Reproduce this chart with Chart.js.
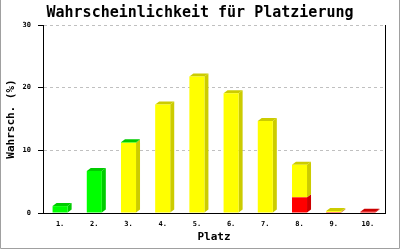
<!DOCTYPE html>
<html><head><meta charset="utf-8">
<script src="https://cdn.jsdelivr.net/npm/chart.js@4/dist/chart.umd.min.js"></script>
<style>html,body{margin:0;padding:0;background:#fff}#c{display:block}</style>
</head><body>
<canvas id="c" width="400" height="250"></canvas>
<script>
const categories = ["1.","2.","3.","4.","5.","6.","7.","8.","9.","10."];
const redValues    = [0, 0, 0, 0, 0, 0, 0, 2.5, 0.15, 0.2];
const yellowValues = [0, 0, 11.2, 17.3, 21.8, 19.1, 14.7, 5.2, 0.15, 0];
const greenValues  = [1.1, 6.7, 0.1, 0, 0, 0, 0, 0, 0, 0];
const yTicks = [0, 10, 20, 30];

const MONO = "'DejaVu Sans Mono', 'Liberation Mono', monospace";
const DX = 4, DY = 3;

const bar3d = {
  id: 'bar3d',
  beforeDatasetsDraw(chart) {
    const ctx = chart.ctx;
    const metas = chart.data.datasets.map((d, k) => chart.getDatasetMeta(k));
    for (let i = 0; i < categories.length; i++) {
      let topSeg = null;
      metas.forEach((meta, k) => {
        const v = chart.data.datasets[k].data[i];
        if (!v) return;
        const el = meta.data[i];
        const p = el.getProps(['x', 'y', 'base', 'width'], true);
        const l = p.x - p.width / 2, r = p.x + p.width / 2;
        const t = Math.min(p.y, p.base), b = Math.max(p.y, p.base);
        const dark = chart.data.datasets[k].sideColor;
        ctx.save();
        ctx.fillStyle = dark;
        ctx.beginPath();
        ctx.moveTo(r, t); ctx.lineTo(r + DX, t - DY); ctx.lineTo(r + DX, b - DY); ctx.lineTo(r, b);
        ctx.closePath(); ctx.fill();
        ctx.restore();
        topSeg = {l, r, t, dark};
      });
      if (topSeg) {
        ctx.save();
        ctx.fillStyle = topSeg.dark;
        ctx.beginPath();
        ctx.moveTo(topSeg.l, topSeg.t); ctx.lineTo(topSeg.l + DX, topSeg.t - DY);
        ctx.lineTo(topSeg.r + DX, topSeg.t - DY); ctx.lineTo(topSeg.r, topSeg.t);
        ctx.closePath(); ctx.fill();
        ctx.restore();
      }
    }
  },
  afterDraw(chart) {
    const ctx = chart.ctx;
    ctx.save();
    ctx.strokeStyle = '#a0a0a0'; ctx.lineWidth = 1;
    ctx.beginPath();
    ctx.moveTo(0.5, 0); ctx.lineTo(0.5, 248.5); ctx.lineTo(399.5, 248.5); ctx.lineTo(399.5, 0);
    ctx.stroke();
    ctx.restore();
  }
};

new Chart(document.getElementById('c'), {
  type: 'bar',
  data: {
    labels: categories,
    datasets: [
      {label: 'rot', data: redValues, backgroundColor: '#ff0000', sideColor: '#cc0000'},
      {label: 'gelb', data: yellowValues, backgroundColor: '#ffff00', sideColor: '#cccc00'},
      {label: 'grün', data: greenValues, backgroundColor: '#00ff00', sideColor: '#00cc00'}
    ]
  },
  options: {
    responsive: false,
    animation: false,
    devicePixelRatio: 1,
    layout: {padding: {left: 0, right: 0, top: 0, bottom: 0}},
    datasets: {bar: {barPercentage: 0.44, categoryPercentage: 1.0, borderWidth: 0}},
    plugins: {
      legend: {display: false},
      tooltip: {enabled: false},
      title: {
        display: true,
        text: 'Wahrscheinlichkeit für Platzierung',
        color: '#000',
        font: {family: MONO, size: 15, weight: 'bold', lineHeight: 1.2},
        padding: {top: 4, bottom: 3}
      }
    },
    scales: {
      x: {
        stacked: true,
        grid: {display: false, drawTicks: false},
        border: {display: true, color: '#000', width: 1},
        ticks: {color: '#000', font: {family: MONO, size: 7, weight: 'bold'}, padding: 7, maxRotation: 0, autoSkip: false},
        title: {display: true, text: 'Platz', color: '#000', font: {family: MONO, size: 11, weight: 'bold', lineHeight: 1.2}, padding: {top: 0, bottom: 6}},
        afterFit(s) { s.height = 37; }
      },
      y: {
        stacked: true,
        min: 0, max: 30,
        afterBuildTicks(s) { s.ticks = yTicks.map(v => ({value: v})); },
        grid: {color: '#c0c0c0', tickColor: '#000', tickBorderDash: [], tickLength: 5, lineWidth: 1},
        border: {display: true, color: '#000', width: 1, dash: [3, 3]},
        ticks: {color: '#000', font: {family: MONO, size: 7, weight: 'bold'}, padding: 7},
        title: {display: true, text: 'Wahrsch. (%)', color: '#000', font: {family: MONO, size: 11, weight: 'bold', lineHeight: 1.2}, padding: {top: 5, bottom: 0}},
        afterFit(s) { s.width = 43; }
      },
      yRight: {
        position: 'right',
        min: 0, max: 30,
        ticks: {display: false},
        grid: {display: false, drawTicks: false},
        border: {display: true, color: '#000', width: 1},
        afterFit(s) { s.width = 15; }
      }
    }
  },
  plugins: [bar3d]
});
</script>
</body></html>
